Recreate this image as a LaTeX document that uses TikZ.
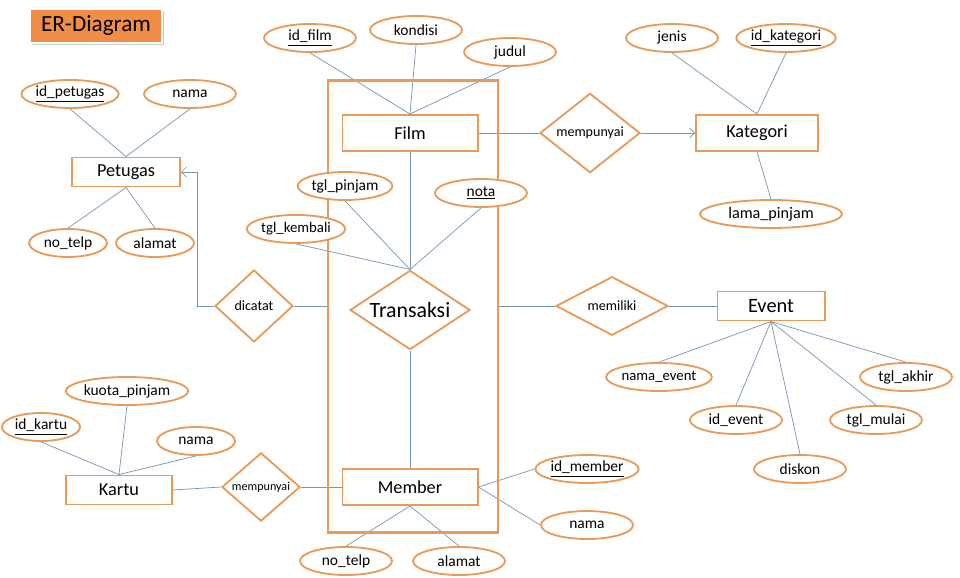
\documentclass[tikz,border=0pt]{standalone}
\usepackage{fontspec}
\setmainfont{Carlito}
\usetikzlibrary{shapes.geometric, arrows.meta, positioning, shadows, backgrounds}
\definecolor{erorange}{RGB}{234,154,88}
\definecolor{titleorange}{RGB}{240,142,72}
\definecolor{linkblue}{RGB}{118,150,182}

\begin{document}
\begin{tikzpicture}[
        x=0.025cm, y=-0.025cm,
        entity/.style={rectangle, draw=erorange, line width=1.4pt, fill=white,
                       minimum height=0.9cm, inner sep=2pt,
                       font=\fontsize{13}{15}\selectfont},
        attr/.style={ellipse, draw=erorange, line width=1.3pt, fill=white,
                     minimum width=2.3cm, minimum height=0.7cm, inner sep=0pt,
                     font=\fontsize{11}{13}\selectfont},
        rel/.style={diamond, draw=erorange, line width=1.3pt, fill=white,
                    inner sep=0pt, font=\fontsize{10}{12}\selectfont},
        link/.style={draw=linkblue, line width=0.5pt},
        arrow/.style={link, -{Straight Barb[length=3.5pt, width=7pt]}}
      ]
        \begin{scope}[on background layer]
          \path[use as bounding box, fill=white] (0,0) rectangle (960,578);
        \end{scope}
        \node[fill=titleorange, draw=white, line width=1.6pt,
              text={RGB:red,255;green,242;blue,228}, font=\fontsize{16.5}{18}\selectfont,
              minimum width=3.3cm, minimum height=0.85cm,
              drop shadow={opacity=0.4, shadow xshift=1.2pt, shadow yshift=-1.5pt}]
              (title) at (96,26) {ER-Diagram};

        \node[draw=erorange, line width=1.8pt, minimum width=4.25cm,
              minimum height=11.3cm] (agg) at (413,306.5) {};

        \node[entity, minimum width=3.375cm] (film) at (410,133) {Film};
        \node[attr] (idfilm)  at (310,38) {\underline{id\_film}};
        \node[attr] (kondisi) at (416,30) {kondisi};
        \node[attr] (judul)   at (510,52) {judul};

        \node[rel, minimum width=2.5cm, minimum height=1.6cm] (punya) at (590,133) {mempunyai};
        \node[entity, minimum width=3.05cm] (kat) at (757,133) {Kategori};
        \node[attr] (jenis) at (672,38) {jenis};
        \node[attr] (idkat) at (786,38) {\underline{id\_kategori}};
        \node[attr, minimum width=3.55cm, font=\fontsize{11.5}{13}\selectfont] (lama) at (771,214) {lama\_pinjam};

        \node[entity, minimum width=2.7cm, minimum height=0.725cm] (ptg) at (126,172) {Petugas};
        \node[attr] (idptg)   at (70,94)  {\underline{id\_petugas}};
        \node[attr] (namaptg) at (190,94) {nama};
        \node[attr, minimum width=1.95cm] (telpptg)   at (68,243)  {no\_telp};
        \node[attr, minimum width=1.95cm] (alamatptg) at (155,243) {alamat};

        \node[attr] (pinjam)  at (345,186) {tgl\_pinjam};
        \node[attr] (nota)    at (481,193) {\underline{nota}};
        \node[attr, font=\fontsize{10.5}{12}\selectfont] (kembali) at (296,229) {tgl\_kembali};
        \node[rel, shape aspect=1.5, minimum width=3cm, minimum height=1.98cm,
              font=\fontsize{15.5}{17}\selectfont] (trx) at (410,310) {Transaksi};

        \node[rel, minimum width=1.95cm, minimum height=1.8cm] (catat) at (254,306) {dicatat};
        \coordinate (bend) at (197,306);

        \node[rel, minimum width=2.8cm, minimum height=1.4cm] (miliki) at (612,306) {memiliki};
        \node[entity, minimum width=2.675cm, minimum height=0.725cm,
              font=\fontsize{14.5}{16}\selectfont] (event) at (771,306) {Event};
        \node[attr, font=\fontsize{10.5}{12}\selectfont] (namaev) at (659,377) {nama\_event};
        \node[attr] (idev)   at (736,420) {id\_event};
        \node[attr] (diskon) at (800,469) {diskon};
        \node[attr] (mulai)  at (876,420) {tgl\_mulai};
        \node[attr] (akhir)  at (906,377) {tgl\_akhir};

        \node[entity, minimum width=3.375cm] (member) at (410,487) {Member};
        \node[attr] (idmem)     at (587,469) {\underline{id\_member}};
        \node[attr] (namamem)   at (587,525) {nama};
        \node[attr] (telpmem)   at (346,561) {no\_telp};
        \node[attr] (alamatmem) at (459,561) {alamat};

        \node[rel, minimum width=1.95cm, minimum height=1.6cm,
              font=\fontsize{8.6}{10}\selectfont] (punya2) at (261,487) {mempunyai};
        \node[entity, minimum width=2.65cm, minimum height=0.725cm] (kartu) at (119,490) {Kartu};
        \node[attr, minimum width=1.95cm] (idkartu)  at (41,427)  {\underline{id\_kartu}};
        \node[attr, minimum width=2.65cm] (kuota)    at (127,391) {kuota\_pinjam};
        \node[attr, minimum width=1.95cm] (namakrt)  at (196,441) {nama};

        \begin{scope}[on background layer]
          \draw[link] (film.north) -- (idfilm.south);
          \draw[link] (film.north) -- (kondisi.south);
          \draw[link] (film.north) -- (judul.south);
          \draw[link] (film.east) -- (punya.west);
          \draw[arrow] (punya.east) -- (kat.west);
          \draw[link] (kat.north) -- (jenis.south);
          \draw[link] (kat.north) -- (idkat.south);
          \draw[link] (kat.south) -- (lama.north);
          \draw[link] (ptg.north) -- (idptg.south);
          \draw[link] (ptg.north) -- (namaptg.south);
          \draw[link] (ptg.south) -- (telpptg.north);
          \draw[link] (ptg.south) -- (alamatptg.north);
          \draw[link] (trx.north) -- (film.south);
          \draw[link] (trx.north) -- (pinjam.south);
          \draw[link] (trx.north) -- (nota.south);
          \draw[link] (trx.north) -- (kembali.south);
          \draw[link] (trx.south) -- (member.north);
          \draw[link] (catat.east) -- (catat.east -| agg.west);
          \draw[arrow] (catat.west) -- (bend) |- (ptg.east);
          \draw[link] (agg.east |- miliki.west) -- (miliki.west);
          \draw[link] (miliki.east) -- (event.west);
          \draw[link] (event.south) -- (namaev.north);
          \draw[link] (event.south) -- (idev.north);
          \draw[link] (event.south) -- (diskon.north);
          \draw[link] (event.south) -- (mulai.north);
          \draw[link] (event.south) -- (akhir.north);
          \draw[link] (member.east) -- (idmem.west);
          \draw[link] (member.east) -- (namamem.west);
          \draw[link] (member.south) -- (telpmem.north);
          \draw[link] (member.south) -- (alamatmem.north);
          \draw[link] (member.west) -- (punya2.east);
          \draw[link] (punya2.west) -- (kartu.east);
          \draw[link] (kartu.north) -- (idkartu.south);
          \draw[link] (kartu.north) -- (kuota.south);
          \draw[link] (kartu.north) -- (namakrt.south);
        \end{scope}
      \end{tikzpicture}
\end{document}
